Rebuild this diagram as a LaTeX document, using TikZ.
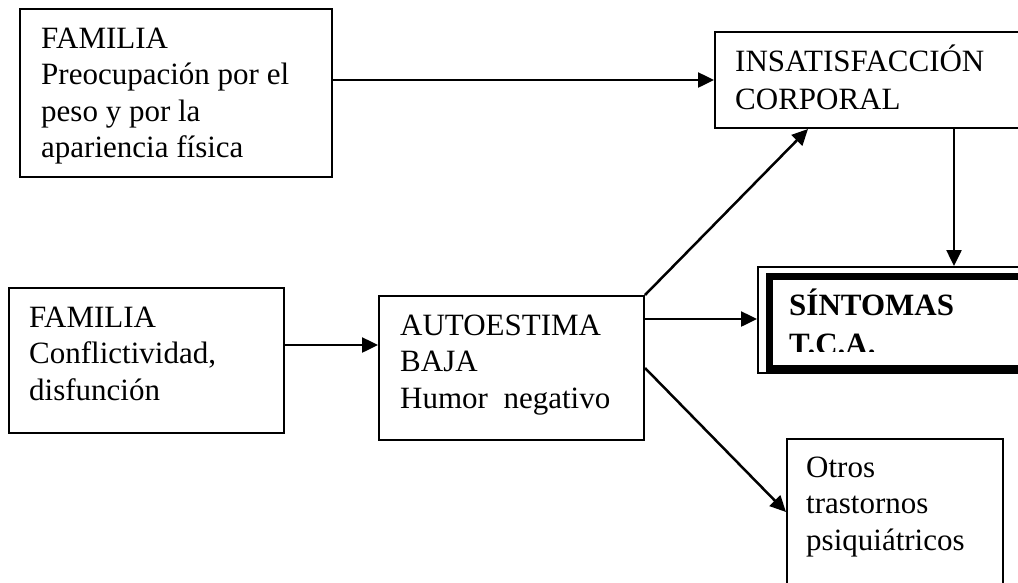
\documentclass[tikz,border=0pt]{standalone}
\usepackage{fontspec}
\setmainfont{Liberation Serif}
\usetikzlibrary{arrows.meta}
\begin{document}
\begin{tikzpicture}[x=1pt,y=-1pt,
  box/.style={draw, line width=2pt, rectangle, inner sep=0pt, anchor=north west},
  txt/.style={font=\fontsize{31}{36.5}\selectfont, align=left, inner sep=0pt, anchor=base west},
  arr/.style={line width=2.5pt, -{Triangle[length=16pt,width=15pt]}}]
\useasboundingbox (0,0) rectangle (1018,582);
% boxes
\node[box, minimum width=312pt, minimum height=168pt] (fam1) at (19,8) {};
\node[box, minimum width=330pt, minimum height=96pt] (insat) at (714,31) {};
\node[box, minimum width=275pt, minimum height=145pt] (fam2) at (8,287) {};
\node[box, minimum width=265pt, minimum height=144pt] (auto) at (378,295) {};
\node[box, minimum width=216pt, minimum height=170pt] (otros) at (786,438) {};
\node[box, line width=1.5pt, minimum width=320pt, minimum height=106pt] (sint) at (757,266) {};
\node[box, line width=7pt, minimum width=320pt, minimum height=92.5pt] (sintin) at (765.5,272.5) {};
% texts (anchored at the baseline of the last line)
\node[txt] (t1) at (41,157.5) {FAMILIA\\Preocupación por el\\peso y por la\\apariencia física};
\node[txt, font=\fontsize{31}{38}\selectfont] (t2) at (735,109) {INSATISFACCIÓN\\CORPORAL};
\node[txt] (t3) at (29,400) {FAMILIA\\Conflictividad,\\disfunción};
\node[txt] (t4) at (400,408) {AUTOESTIMA\\BAJA\\Humor~ negativo};
\node[txt] (t5) at (806,550) {Otros\\trastornos\\psiquiátricos};
\begin{scope}
  \clip (770,250) rectangle (1018,351);
  \node[txt, font=\fontsize{31}{39}\selectfont\bfseries] (t6) at (789,354) {SÍNTOMAS\\T.C.A.};
\end{scope}
% connectors
\draw[arr] (fam1.east |- insat.west) -- (insat.west);
\draw[arr] ([xshift=240pt]insat.south west) -- ([xshift=240pt]insat.south west |- sint.north);
\draw[arr] ([yshift=15.5pt]fam2.east) -- ([yshift=15.5pt]fam2.east -| auto.west);
\draw[arr] ([yshift=-24pt]auto.north east) -- ([yshift=-24pt]auto.north east -| sint.west);
\draw[arr] (auto.north east) -- ([xshift=94pt]insat.south west);
\draw[arr] (auto.east) -- ([yshift=-74pt]otros.north west);
\end{tikzpicture}
\end{document}
